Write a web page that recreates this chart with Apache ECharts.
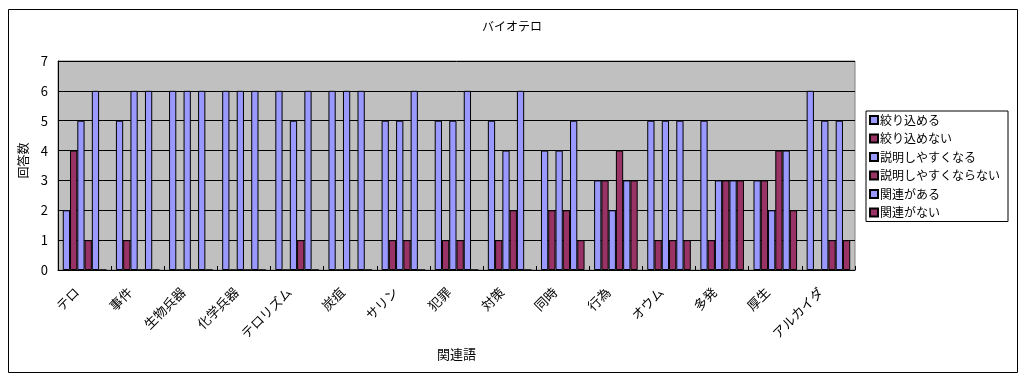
<!DOCTYPE html>
<html>
<head>
<meta charset="utf-8">
<script src="https://cdn.jsdelivr.net/npm/echarts@6/dist/echarts.min.js"></script>
<style>
  html, body { margin: 0; padding: 0; background: #fff; }
  #chart { width: 1024px; height: 378px; }
</style>
</head>
<body>
<div id="chart"></div>
<script>
// categories (関連語)
const categories = ['テロ', '事件', '生物兵器', '化学兵器', 'テロリズム', '炭疽', 'サリン', '犯罪', '対策', '同時', '行為', 'オウム', '多発', '厚生', 'アルカイダ'];

// 回答数 for each series
const narrowYes   = [2, 5, 6, 6, 6, 6, 5, 5, 5, 4, 3, 5, 5, 3, 6]; // 絞り込める
const narrowNo    = [4, 1, 0, 0, 0, 0, 1, 1, 1, 2, 3, 1, 1, 3, 0]; // 絞り込めない
const explainYes  = [5, 6, 6, 6, 5, 6, 5, 5, 4, 4, 2, 5, 3, 2, 5]; // 説明しやすくなる
const explainNo   = [1, 0, 0, 0, 1, 0, 1, 1, 2, 2, 4, 1, 3, 4, 1]; // 説明しやすくならない
const relatedYes  = [6, 6, 6, 6, 6, 6, 6, 6, 6, 5, 3, 5, 3, 4, 5]; // 関連がある
const relatedNo   = [0, 0, 0, 0, 0, 0, 0, 0, 0, 1, 3, 1, 3, 2, 1]; // 関連がない

const seriesNames = ['絞り込める', '絞り込めない', '説明しやすくなる', '説明しやすくならない', '関連がある', '関連がない'];
const seriesData = [narrowYes, narrowNo, explainYes, explainNo, relatedYes, relatedNo];

const FONT = '"Noto Sans CJK JP", "Liberation Sans", sans-serif';
const colors = ['#9999FF', '#993366', '#9999FF', '#993366', '#9999FF', '#993366'];

const chart = echarts.init(document.getElementById('chart'), null, { renderer: 'canvas' });

const option = {
  animation: false,
  textStyle: { fontFamily: FONT, color: '#000' },
  title: {
    text: 'バイオテロ',
    left: 'center',
    top: 15,
    textStyle: { fontFamily: FONT, fontSize: 12, fontWeight: 'normal', color: '#000' }
  },
  legend: {
    orient: 'vertical',
    left: 866,
    top: 111,
    width: 146,
    padding: [3, 8, 3, 3],
    itemWidth: 8,
    itemHeight: 8,
    itemGap: 6.5,
    icon: 'rect',
    backgroundColor: '#fff',
    borderColor: '#000',
    borderWidth: 1,
    borderRadius: 0,
    textStyle: { fontFamily: FONT, fontSize: 12, color: '#000', padding: [0, 0, 0, -3] },
    data: seriesNames
  },
  grid: {
    left: 58,
    top: 61,
    width: 797,
    height: 209,
    show: true,
    backgroundColor: '#C0C0C0',
    borderColor: '#808080',
    borderWidth: 1
  },
  xAxis: {
    type: 'category',
    data: categories,
    name: '関連語',
    nameLocation: 'middle',
    nameGap: 72,
    nameTextStyle: { fontFamily: FONT, fontSize: 13, color: '#000' },
    axisLine: { lineStyle: { color: '#000', width: 1 } },
    axisTick: { show: true, inside: true, length: 4, lineStyle: { color: '#000' } },
    axisLabel: {
      interval: 0,
      rotate: 45,
      margin: 12,
      padding: [0, 11, 0, 0],
      fontFamily: FONT,
      fontSize: 13,
      color: '#000'
    }
  },
  yAxis: {
    type: 'value',
    min: 0,
    max: 7,
    interval: 1,
    name: '回答数',
    nameLocation: 'middle',
    nameGap: 26,
    nameRotate: 90,
    nameTextStyle: { fontFamily: FONT, fontSize: 12, color: '#000', padding: [0, 0, 0, 10] },
    axisLine: { show: true, lineStyle: { color: '#000', width: 1 } },
    axisTick: { show: false },
    axisLabel: { margin: 10, fontFamily: FONT, fontSize: 13, color: '#000' },
    splitLine: { show: true, lineStyle: { color: '#000', width: 1 } }
  },
  series: seriesNames.map((name, i) => ({
    name: name,
    type: 'bar',
    data: seriesData[i],
    barGap: '0%',
    barCategoryGap: '18%',
    itemStyle: { color: colors[i], borderColor: '#000', borderWidth: 1 }
  })),
  graphic: [
    {
      type: 'rect',
      left: 6,
      top: 7,
      shape: { width: 1009, height: 363 },
      style: { fill: 'none', stroke: '#000', lineWidth: 1 },
      silent: true
    }
  ]
};

chart.setOption(option);
</script>
</body>
</html>
